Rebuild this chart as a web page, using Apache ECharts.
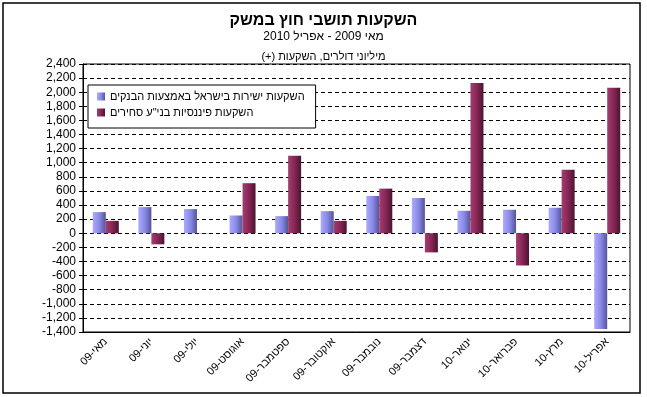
<!DOCTYPE html>
<html>
<head>
<meta charset="utf-8">
<script src="https://cdn.jsdelivr.net/npm/echarts@6/dist/echarts.min.js"></script>
<style>
  html, body { margin: 0; padding: 0; background: #fff; }
  #chartPanel { width: 647px; height: 397px; }
</style>
</head>
<body>
<div id="chartPanel"></div>
<script>
// months, May 2009 .. April 2010
var categories = ['מאי-09', 'יוני-09', 'יולי-09', 'אוגוסט-09', 'ספטמבר-09', 'אוקטובר-09',
                  'נובמבר-09', 'דצמבר-09', 'ינואר-10', 'פברואר-10', 'מרץ-10', 'אפריל-10'];
var seriesNames = ['השקעות ישירות בישראל באמצעות הבנקים', 'השקעות פיננסיות בני"ע סחירים'];
var directInv = [300, 371, 343, 252, 243, 314, 529, 500, 319, 333, 362, -1357];
var financialInv = [176, -157, 4, 710, 1100, 176, 633, -271, 2129, -457, 900, 2062];
var yMin = -1400, yMax = 2400, yStep = 200;

var font = "'Liberation Sans', 'DejaVu Sans', Arial, sans-serif";

var chartPanel = echarts.init(document.getElementById('chartPanel'));

function grad(c0, c1, c2) {
  return new echarts.graphic.LinearGradient(0, 0, 1, 0, [
    { offset: 0, color: c0 },
    { offset: 0.5, color: c1 },
    { offset: 1, color: c2 }
  ]);
}

var option = {
  backgroundColor: '#fff',
  animation: false,
  title: [
    {
      text: 'השקעות תושבי חוץ במשק',
      left: 'center', top: 13, padding: 0,
      textStyle: { fontFamily: font, fontSize: 16, fontWeight: 'bold', color: '#000' }
    },
    {
      text: 'מאי 2009 - אפריל 2010',
      left: 'center', top: 31, padding: 0,
      textStyle: { fontFamily: font, fontSize: 12, fontWeight: 'normal', color: '#000' }
    },
    {
      text: 'מיליוני דולרים, השקעות (+)\u200F',
      left: 'center', top: 51, padding: 0,
      textStyle: { fontFamily: font, fontSize: 11, fontWeight: 'normal', color: '#000' }
    }
  ],
  graphic: [
    {
      type: 'rect',
      shape: { x: 3, y: 3, width: 637, height: 390 },
      style: { fill: 'none', stroke: '#000', lineWidth: 1.5 },
      silent: true
    }
  ],
  legend: {
    data: seriesNames,
    orient: 'vertical',
    left: 88, top: 85,
    padding: [6, 11, 10, 9],
    itemGap: 5,
    itemWidth: 8, itemHeight: 8,
    icon: 'rect',
    backgroundColor: '#fff',
    borderColor: '#000',
    borderWidth: 1,
    textStyle: { fontFamily: font, fontSize: 11, color: '#000' }
  },
  grid: {
    left: 83, right: 17, top: 64, bottom: 65,
    show: true,
    borderColor: '#000',
    borderWidth: 1,
    z: 1
  },
  xAxis: {
    type: 'category',
    data: categories,
    axisLine: { onZero: false, lineStyle: { color: '#000' } },
    axisTick: { show: false },
    axisLabel: {
      rotate: 45, interval: 0, margin: 8,
      fontFamily: font, fontSize: 11, color: '#000'
    }
  },
  yAxis: {
    type: 'value',
    min: yMin, max: yMax, interval: yStep,
    axisLine: { show: true, lineStyle: { color: '#000' } },
    axisTick: { show: true, length: 4, lineStyle: { color: '#000' } },
    axisLabel: {
      fontFamily: font, fontSize: 12, color: '#000', margin: 7,
      formatter: function (v) { return echarts.format.addCommas(v); }
    },
    splitLine: { lineStyle: { color: '#000', type: [4, 3], width: 1 } }
  },
  series: [
    {
      name: seriesNames[0],
      type: 'bar',
      barWidth: 13,
      barGap: '0%',
      itemStyle: { color: grad('#aaaaff', '#8a8ae6', '#545498') },
      data: directInv
    },
    {
      name: seriesNames[1],
      type: 'bar',
      barWidth: 13,
      barGap: '0%',
      itemStyle: { color: grad('#a53d70', '#862655', '#4a1530') },
      data: financialInv
    }
  ]
};

chartPanel.setOption(option);
</script>
</body>
</html>
